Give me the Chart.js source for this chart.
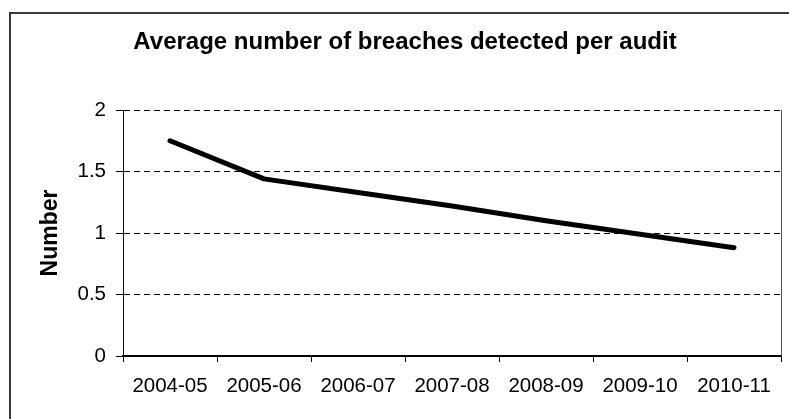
<!DOCTYPE html>
<html>
<head>
<meta charset="utf-8">
<script src="https://cdn.jsdelivr.net/npm/chart.js@4"></script>
<style>
  html, body { margin: 0; padding: 0; background: #fff; }
  #wrap { width: 789px; height: 419px; }
</style>
</head>
<body>
<div id="wrap"><canvas id="breachChart" width="789" height="419"></canvas></div>
<script>
// Chart data
const years = ['2004-05', '2005-06', '2006-07', '2007-08', '2008-09', '2009-10', '2010-11'];
const avgBreaches = [1.75, 1.44, 1.33, 1.22, 1.10, 0.99, 0.88];
const yTicks = [0, 0.5, 1, 1.5, 2];

const chartTitle = 'Average number of breaches detected per audit';
const fontFamily = '"Liberation Sans", Arial, sans-serif';

// Outer frame, title and the right edge of the plot
const framePlugin = {
  id: 'frame',
  afterDraw(chart) {
    const ctx = chart.ctx;
    const area = chart.chartArea;
    ctx.save();
    ctx.strokeStyle = '#3a3a3a';
    ctx.lineWidth = 2;
    ctx.strokeRect(10, 13, 1000, 1000);

    ctx.strokeStyle = '#555';
    ctx.lineWidth = 1;
    ctx.beginPath();
    ctx.moveTo(Math.round(area.right) + 0.5, area.top);
    ctx.lineTo(Math.round(area.right) + 0.5, area.bottom);
    ctx.stroke();

    ctx.fillStyle = '#000';
    ctx.font = 'bold 24px ' + fontFamily;
    ctx.textAlign = 'center';
    ctx.textBaseline = 'alphabetic';
    ctx.fillText(chartTitle, 405, 49);
    ctx.restore();
  }
};

new Chart(document.getElementById('breachChart').getContext('2d'), {
  type: 'line',
  data: {
    labels: years,
    datasets: [{
      label: 'Average breaches',
      data: avgBreaches,
      borderColor: '#000',
      borderWidth: 5,
      borderCapStyle: 'round',
      borderJoinStyle: 'round',
      pointRadius: 0,
      tension: 0,
      fill: false
    }]
  },
  options: {
    responsive: false,
    animation: false,
    devicePixelRatio: 1,
    layout: {
      padding: { top: 110, right: 8, left: 0, bottom: 0 }
    },
    plugins: {
      legend: { display: false },
      title: { display: false },
      tooltip: { enabled: false }
    },
    scales: {
      x: {
        offset: true,
        afterFit(scale) { scale.height = 63; },
        grid: {
          offset: true,
          drawOnChartArea: false,
          drawTicks: true,
          tickLength: 6,
          color: '#000'
        },
        border: { color: '#000', width: 2 },
        ticks: {
          color: '#000',
          font: { family: fontFamily, size: 20.5 },
          padding: 12,
          maxRotation: 0,
          autoSkip: false
        }
      },
      y: {
        min: 0,
        max: 2,
        afterFit(scale) { scale.width = 123; },
        afterBuildTicks(scale) {
          scale.ticks = yTicks.map(v => ({ value: v }));
        },
        grid: {
          color: '#000',
          lineWidth: 1,
          tickLength: 7,
          tickBorderDash: []
        },
        border: { color: '#000', width: 1, dash: [6, 4] },
        ticks: {
          color: '#000',
          font: { family: fontFamily, size: 20.5 },
          padding: 10,
          callback: value => String(value)
        },
        title: {
          display: true,
          text: 'Number',
          color: '#000',
          font: { family: fontFamily, size: 23, weight: 'bold' },
          padding: { top: 37, bottom: 0 }
        }
      }
    }
  },
  plugins: [framePlugin]
});
</script>
</body>
</html>
